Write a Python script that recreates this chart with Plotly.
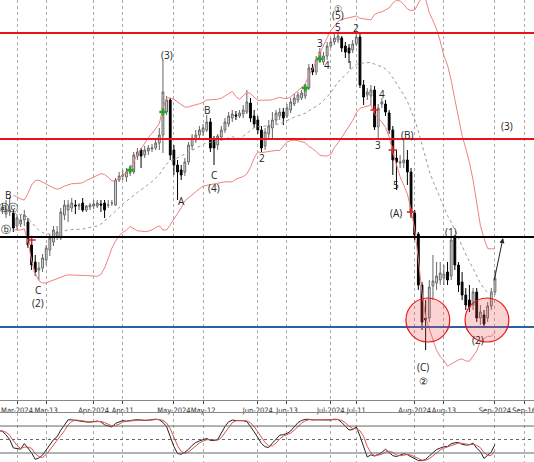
import numpy as np
import pandas as pd
import plotly.graph_objects as go
from plotly.subplots import make_subplots

idx = list(range(1, 138))

opens = [288,290,286,288,287,274,276,280,278,255,238,230,232,240,250,258,264,262,285,290,
 292,295,294,297,290,293,294,294,296,297,295,297,295,320,324,323,328,328,344,350,
 345,349,351,352,357,365,388,400,350,335,330,328,338,354,360,365,368,370,378,360,
 355,363,370,376,382,385,384,386,388,397,384,380,370,354,366,372,380,384,388,384,
 390,396,400,402,404,412,432,428,442,438,444,454,458,460,462,454,452,450,456,463,
 415,405,404,410,373,396,396,387,370,342,337,337,340,328,287,266,215,182,182,214,
 217,220,222,228,224,263,235,218,205,200,195,208,182,185,182,194,208]
closes = [292,293,290,290,272,282,280,285,255,235,228,232,242,252,262,270,268,288,295,295,
 297,294,295,290,294,295,296,297,295,290,295,297,320,324,325,328,331,345,348,344,
 350,352,352,357,365,408,400,345,335,328,325,338,355,362,365,370,372,378,352,352,
 364,370,378,384,386,384,387,390,398,382,376,370,352,368,374,380,387,388,382,392,
 398,402,405,407,412,432,428,440,448,444,454,458,462,464,452,448,447,456,463,415,
 403,408,410,373,392,398,388,370,340,338,338,340,328,287,265,215,178,180,213,219,
 224,227,226,220,260,235,215,205,195,193,208,182,188,176,194,208,222]
highs = [295,297,300,303,290,286,285,290,282,260,245,238,246,255,266,274,274,292,300,300,
 302,300,297,302,295,297,300,300,300,300,300,300,322,328,330,332,335,348,352,352,
 354,355,356,360,372,440,404,402,355,340,335,342,358,366,370,374,376,385,382,364,
 366,374,382,388,390,389,390,395,410,402,390,384,374,372,380,388,390,392,392,396,
 402,406,408,410,416,436,436,444,452,448,458,462,466,470,464,458,456,460,466,466,
 420,412,415,414,396,402,400,390,374,350,345,360,350,332,290,268,218,200,220,245,
 238,238,235,238,264,265,238,228,212,215,212,212,195,190,198,212,230]
lows = [285,286,282,284,268,270,273,274,252,230,224,220,228,235,244,254,260,260,280,278,
 288,286,290,288,288,290,291,292,288,282,292,294,294,318,320,318,324,326,340,332,
 342,345,348,350,350,347,385,340,325,300,320,324,335,350,357,362,364,368,348,335,
 350,360,367,373,378,380,382,382,386,378,372,366,348,350,360,362,376,380,375,382,
 387,394,397,400,401,410,425,425,438,435,440,452,455,457,448,442,438,447,454,412,
 395,400,395,370,362,392,384,366,325,310,332,332,315,282,260,210,170,150,178,200,
 210,215,215,215,220,230,208,200,190,188,190,178,175,172,178,190,205]

tick_idx = [6, 14, 27, 35, 49, 57, 72, 80, 92, 99, 115, 123, 137, 145]
tick_text = ["Mar-2024", "Mar-13", "Apr-2024", "Apr-11", "May-2024", "May-12", "Jun-2024", "Jun-13",
             "Jul-2024", "Jul-11", "Aug-2024", "Aug-13", "Sep-2024", "Sep-16"]

levels_red = [467, 361]
level_black = 263
level_blue = 173

s = pd.Series(closes, index=idx, dtype=float)
mid = s.rolling(20, min_periods=5).mean()
sd = s.rolling(20, min_periods=5).std()
up, lo = mid + 2 * sd, mid - 2 * sd
hs = pd.Series(highs, index=idx, dtype=float)
ls = pd.Series(lows, index=idx, dtype=float)
hh = hs.rolling(14, min_periods=1).max()
ll = ls.rolling(14, min_periods=1).min()
k = (100 * (s - ll) / (hh - ll)).rolling(3, min_periods=1).mean()
d = k.rolling(3, min_periods=1).mean()

fig = make_subplots(rows=2, cols=1, shared_xaxes=False, row_heights=[0.87, 0.13], vertical_spacing=0.0)

fig.add_trace(go.Scatter(x=idx, y=up, mode="lines", line=dict(color="#f08080", width=1)), 1, 1)
fig.add_trace(go.Scatter(x=idx, y=lo, mode="lines", line=dict(color="#f08080", width=1)), 1, 1)
fig.add_trace(go.Scatter(x=idx, y=mid, mode="lines", line=dict(color="#999", width=1, dash="dot")), 1, 1)

fig.add_trace(go.Candlestick(x=idx, open=opens, high=highs, low=lows, close=closes,
    increasing=dict(line=dict(color="#666", width=1), fillcolor="#e8e8e8"),
    decreasing=dict(line=dict(color="#000", width=1), fillcolor="#000"),
    whiskerwidth=0), 1, 1)

fig.add_trace(go.Scatter(x=[37, 46, 85, 89], y=[330, 388, 412, 441], mode="markers",
    marker=dict(symbol="cross", size=6, color="#2ca02c")), 1, 1)
fig.add_trace(go.Scatter(x=[10, 104, 109, 114], y=[260, 390, 350, 288], mode="markers",
    marker=dict(symbol="cross-thin", size=6, line=dict(color="#d62728", width=1.5))), 1, 1)

fig.add_trace(go.Scatter(x=idx, y=k, mode="lines", line=dict(color="#222", width=1)), 2, 1)
fig.add_trace(go.Scatter(x=idx, y=d, mode="lines", line=dict(color="#d9534f", width=1)), 2, 1)

for lv in levels_red:
    fig.add_hline(y=lv, line=dict(color="#e8141a", width=2.2), row=1, col=1)
fig.add_hline(y=level_black, line=dict(color="#000", width=2.2), row=1, col=1)
fig.add_hline(y=level_blue, line=dict(color="#2c5fa8", width=2), row=1, col=1)
for lv, dsh in [(80, "solid"), (50, "dot"), (20, "solid")]:
    fig.add_hline(y=lv, line=dict(color="#666", width=1, dash=dsh), row=2, col=1)

for cx in [118.6, 134.8]:
    fig.add_shape(type="circle", x0=cx - 6, x1=cx + 6, y0=158, y1=202,
                  line=dict(color="#e8141a", width=1.2), fillcolor="rgba(240,80,80,0.25)", row=1, col=1)

labels = [(3.5, 305, "B"), (2.3, 293, "ⓐ"), (5.0, 293, "ⓒ"), (3.0, 271, "ⓑ"),
          (11.8, 210, "C"), (11.8, 197, "(2)"), (47.1, 445, "(3)"), (51.2, 299, "A"),
          (58, 390, "B"), (60, 325, "C"), (60, 312, "(4)"), (73.1, 342, "2"),
          (89, 457, "3"), (91, 435, "4"), (94, 473, "5"), (94, 485, "(5)"),
          (97.3, 435, "1"), (99, 472, "2"), (106, 406, "4"), (105, 355, "3"),
          (113, 365, "(B)"), (110, 315, "5"), (110, 287, "(A)"), (125, 268, "(1)"),
          (117.3, 133, "(C)"), (117.3, 119, "②"), (132.3, 160, "(2)"), (140.3, 374, "(3)")]
for x, y, t in labels:
    fig.add_annotation(x=x, y=y, text=t, showarrow=False, font=dict(size=10, color="#222"), row=1, col=1)
fig.add_annotation(x=94, y=500, yanchor="top", text="①", showarrow=False, font=dict(size=9, color="#222"), row=1, col=1)
fig.add_annotation(x=139.2, y=262, ax=136.7, ay=218, xref="x", yref="y", axref="x", ayref="y",
                   text="", showarrow=True, arrowhead=2, arrowsize=1, arrowwidth=1, arrowcolor="#222")

xr = [1.34, 147.7]
grid = dict(showgrid=True, gridcolor="#aaa", griddash="dot", gridwidth=1, tickvals=tick_idx, range=xr, zeroline=False)
fig.update_xaxes(**grid, ticktext=tick_text, showticklabels=True, ticks="outside", ticklen=3, tickangle=0,
                 ticklabeloverflow="allow",
                 tickfont=dict(size=7.5, color="#333", family="Liberation Sans Narrow, DejaVu Sans Condensed, Liberation Sans"),
                 rangeslider_visible=False, showline=True, linecolor="#888", row=1, col=1)
fig.update_xaxes(**grid, showticklabels=False, showline=True, linecolor="#888", mirror=True, row=2, col=1)
fig.update_yaxes(range=[100, 500], showgrid=False, showticklabels=False, zeroline=False, row=1, col=1)
fig.update_yaxes(range=[0, 109], showgrid=False, showticklabels=False, zeroline=False, row=2, col=1)

fig.update_layout(width=534, height=462, margin=dict(l=0, r=0, t=0, b=0, autoexpand=False), showlegend=False,
                  paper_bgcolor="white", plot_bgcolor="white")
fig.layout.yaxis.domain = [62 / 462, 1]
fig.layout.yaxis2.domain = [0, 49 / 462]
fig.write_html("out.html", config={"displayModeBar": False},
               post_script="document.body.style.margin='0';document.body.style.padding='0';")
